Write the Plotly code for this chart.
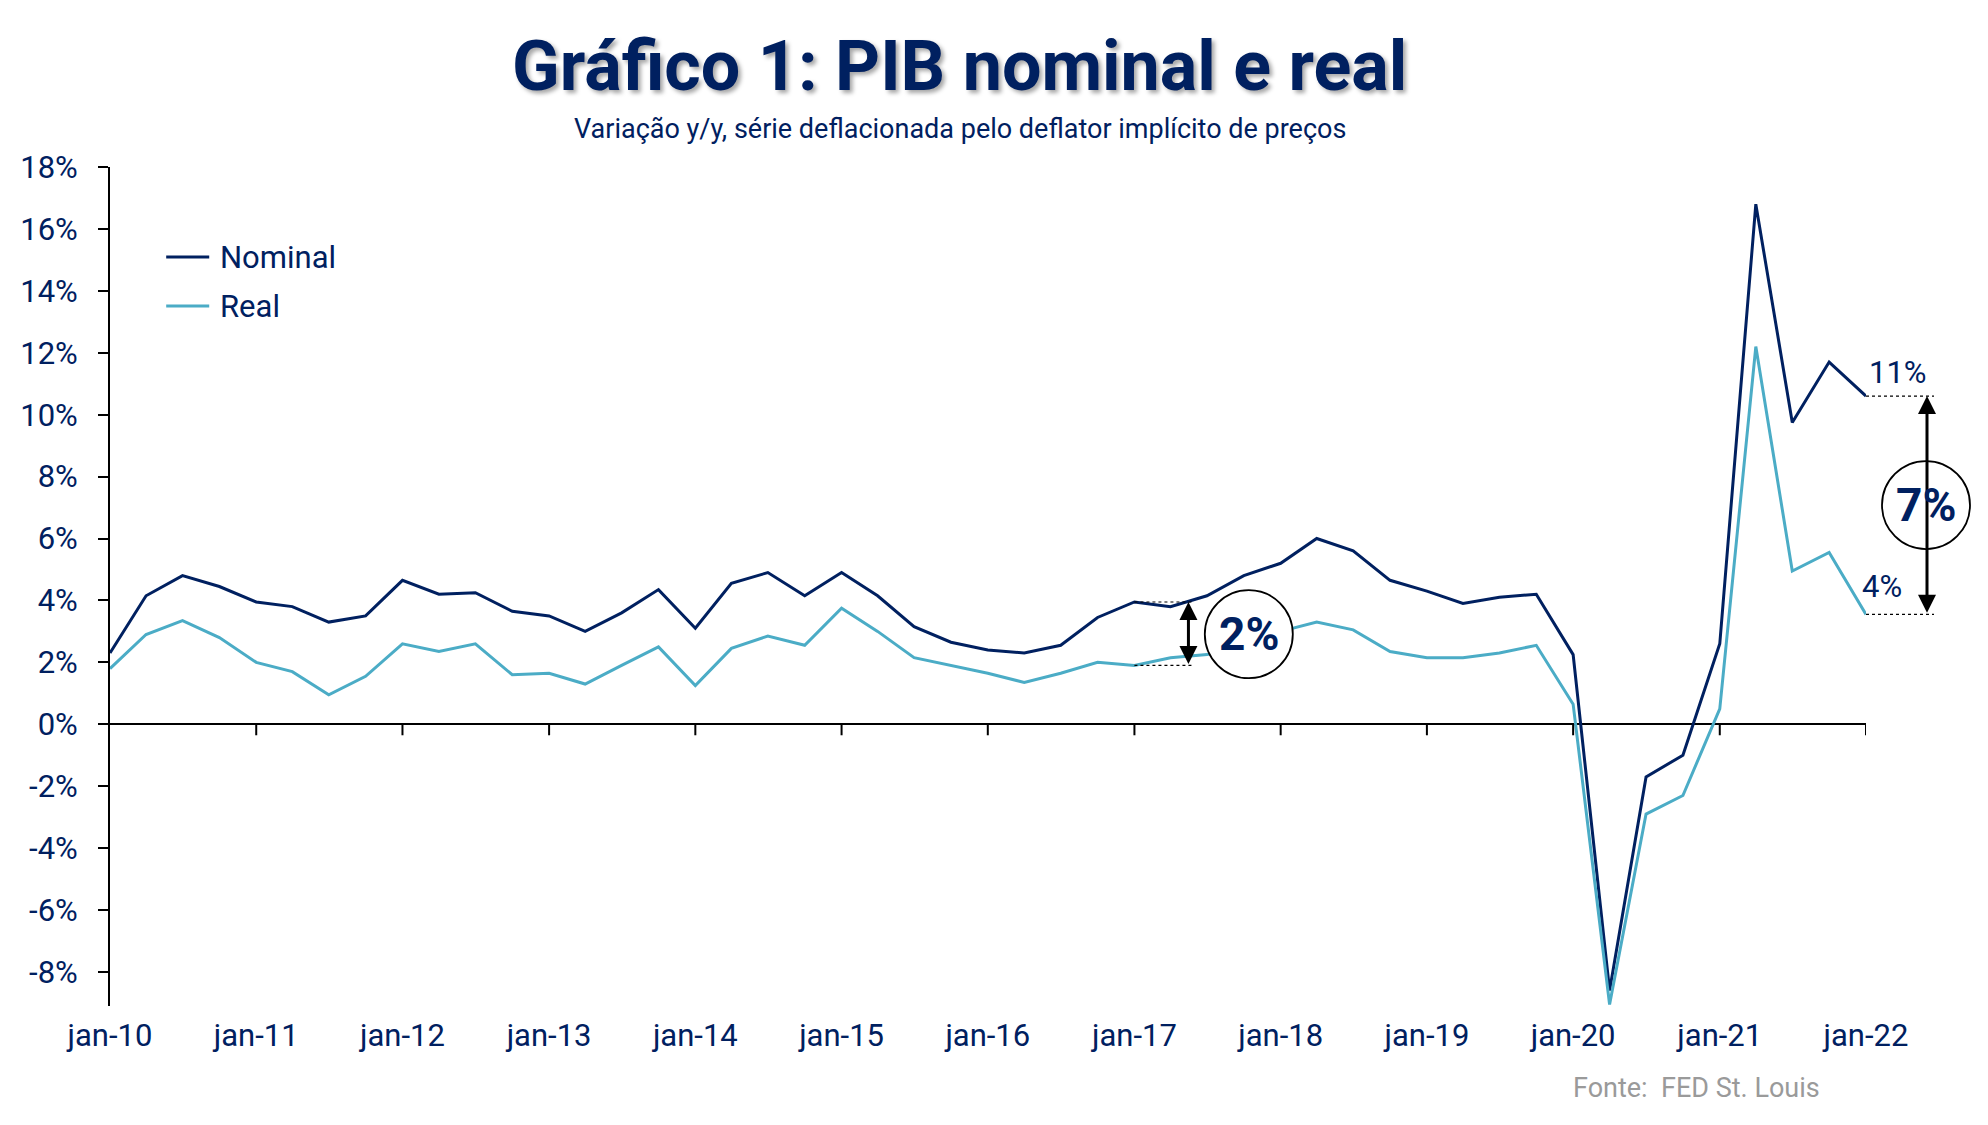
import plotly.graph_objects as go

# ---------------- data ----------------
quarters = [f"{y}-{m:02d}-01" for y in range(2010, 2023) for m in (1, 4, 7, 10)][:49]

nominal = [2.3, 4.15, 4.8, 4.45,
           3.95, 3.8, 3.3, 3.5,
           4.65, 4.2, 4.25, 3.65,
           3.5, 3.0, 3.6, 4.35,
           3.1, 4.55, 4.9, 4.15,
           4.9, 4.15, 3.15, 2.65,
           2.4, 2.3, 2.55, 3.45,
           3.95, 3.8, 4.15, 4.8,
           5.2, 6.0, 5.6, 4.65,
           4.3, 3.9, 4.1, 4.2,
           2.25, -8.6, -1.7, -1.0,
           2.6, 16.8, 9.75, 11.7,
           10.6]

real = [1.8, 2.9, 3.35, 2.8,
        2.0, 1.7, 0.95, 1.55,
        2.6, 2.35, 2.6, 1.6,
        1.65, 1.3, 1.9, 2.5,
        1.25, 2.45, 2.85, 2.55,
        3.75, 3.0, 2.15, 1.9,
        1.65, 1.35, 1.65, 2.0,
        1.9, 2.15, 2.25, 2.5,
        3.0, 3.3, 3.05, 2.35,
        2.15, 2.15, 2.3, 2.55,
        0.65, -9.05, -2.9, -2.3,
        0.5, 12.2, 4.95, 5.55,
        3.55]

series_names = ["Nominal", "Real"]

x_tickvals = ["2010-01-01", "2011-01-01", "2012-01-01", "2013-01-01", "2014-01-01",
              "2015-01-01", "2016-01-01", "2017-01-01", "2018-01-01", "2019-01-01",
              "2020-01-01", "2021-01-01", "2022-01-01"]
x_ticktext = ["jan-10", "jan-11", "jan-12", "jan-13", "jan-14", "jan-15", "jan-16",
              "jan-17", "jan-18", "jan-19", "jan-20", "jan-21", "jan-22"]
y_tickvals = [-8, -6, -4, -2, 0, 2, 4, 6, 8, 10, 12, 14, 16, 18]
y_ticktext = ["-8%", "-6%", "-4%", "-2%", "0%", "2%", "4%", "6%", "8%",
              "10%", "12%", "14%", "16%", "18%"]

gap_small_idx = 28   # jan-17
gap_big_idx = 48     # jan-22
gap_small_label = "2%"
gap_big_label = "7%"
nominal_end_label = "11%"
real_end_label = "4%"

title_text = "Gráfico 1: PIB nominal e real"
subtitle_text = "Variação y/y, série deflacionada pelo deflator implícito de preços"
source_text = "Fonte:  FED St. Louis"

# ---------------- style ----------------
NAVY = "#002060"
LIGHT = "#4BACC6"
FONT = "Roboto, Liberation Sans, sans-serif"
colors = [NAVY, LIGHT]

fig = go.Figure()
for name, vals, col in zip(series_names, [nominal, real], colors):
    fig.add_trace(go.Scatter(x=quarters, y=vals, name=name, mode="lines",
                             line=dict(color=col, width=3), showlegend=False))

shapes = []
annotations = []

# custom legend (line swatch + label)
legend_y = [0.8927, 0.8343]
for name, col, ly in zip(series_names, colors, legend_y):
    shapes.append(dict(type="line", xref="paper", yref="paper",
                       x0=0.032, x1=0.0565, y0=ly, y1=ly,
                       line=dict(color=col, width=3)))
    annotations.append(dict(text=name, xref="paper", yref="paper", x=0.0615, y=ly,
                            xanchor="left", yanchor="middle", showarrow=False,
                            font=dict(family=FONT, size=31, color=NAVY)))

# x ticks on the zero line
for tv in x_tickvals[1:]:
    shapes.append(dict(type="line", xref="x", yref="y", ysizemode="pixel",
                       yanchor=0, x0=tv, x1=tv, y0=0, y1=-11,
                       line=dict(color="black", width=2), layer="above"))

# small gap dashed guides
sx = quarters[gap_small_idx]
for val in (nominal[gap_small_idx], real[gap_small_idx]):
    shapes.append(dict(type="line", xref="x", yref="y", xsizemode="pixel", xanchor=sx,
                       x0=0, x1=58, y0=val, y1=val,
                       line=dict(color="black", width=1.2, dash="dot"), layer="above"))
# big gap dashed guides
for val in (nominal[gap_big_idx], real[gap_big_idx]):
    shapes.append(dict(type="line", xref="paper", yref="y", xsizemode="pixel", xanchor=1,
                       x0=0, x1=68, y0=val, y1=val,
                       line=dict(color="black", width=1.2, dash="dot"), layer="above"))

small_center_y = 2.91
big_center_y = 7.08
shapes.append(dict(type="circle", xref="x", yref="y", xsizemode="pixel", ysizemode="pixel",
                   xanchor=quarters[gap_small_idx + 3], yanchor=small_center_y,
                   x0=-39, x1=49, y0=-44, y1=44,
                   fillcolor="white", line=dict(color="black", width=1.8), layer="above"))
shapes.append(dict(type="circle", xref="paper", yref="y", xsizemode="pixel", ysizemode="pixel",
                   xanchor=1, yanchor=big_center_y,
                   x0=16, x1=104, y0=-44, y1=44,
                   fillcolor="white", line=dict(color="black", width=1.8), layer="above"))

annotations += [
    # title & subtitle
    dict(text=title_text, xref="paper", yref="paper", x=0.484, y=1.1204,
         xanchor="center", yanchor="middle", showarrow=False,
         font=dict(family=FONT, size=70, color=NAVY, weight="bold",
                   shadow="3px 3px 4px rgba(0,0,0,0.35)")),
    dict(text=subtitle_text, xref="paper", yref="paper", x=0.484, y=1.045,
         xanchor="center", yanchor="middle", showarrow=False,
         font=dict(family=FONT, size=27, color=NAVY)),
    # source
    dict(text=source_text, xref="paper", yref="paper", x=0.975, y=-0.0977,
         xanchor="right", yanchor="middle", showarrow=False,
         font=dict(family=FONT, size=27, color="#9a9a9a")),
    # small gap arrow
    dict(x=sx, y=nominal[gap_small_idx], ax=sx, ay=real[gap_small_idx],
         xref="x", yref="y", axref="x", ayref="y", xshift=54, text="",
         showarrow=True, arrowhead=2, startarrowhead=2, arrowside="end+start",
         arrowsize=1.2, startarrowsize=1.2, arrowwidth=3, arrowcolor="black",
         standoff=0, startstandoff=0),
    dict(text=gap_small_label, x=quarters[gap_small_idx + 3], y=small_center_y,
         xref="x", yref="y", xshift=5, xanchor="center", yanchor="middle", showarrow=False,
         font=dict(family=FONT, size=46, color=NAVY, weight="bold")),
    # big gap arrow
    dict(x=1, y=nominal[gap_big_idx], ax=0, ay=real[gap_big_idx],
         xref="paper", yref="y", axref="pixel", ayref="y", xshift=61, text="",
         showarrow=True, arrowhead=2, startarrowhead=2, arrowside="end+start",
         arrowsize=1.2, startarrowsize=1.2, arrowwidth=3, arrowcolor="black",
         standoff=0, startstandoff=0),
    dict(text=gap_big_label, x=1, y=big_center_y, xref="paper", yref="y", xshift=60,
         xanchor="center", yanchor="middle", showarrow=False,
         font=dict(family=FONT, size=46, color=NAVY, weight="bold")),
    dict(text=nominal_end_label, x=1, y=nominal[gap_big_idx], xref="paper", yref="y",
         xshift=32, yshift=24, xanchor="center", yanchor="middle", showarrow=False,
         font=dict(family=FONT, size=31, color=NAVY)),
    dict(text=real_end_label, x=1, y=real[gap_big_idx], xref="paper", yref="y",
         xshift=16, yshift=28, xanchor="center", yanchor="middle", showarrow=False,
         font=dict(family=FONT, size=31, color=NAVY)),
]

fig.update_layout(
    width=1980, height=1117,
    margin=dict(l=100, r=122, t=159, b=119),
    paper_bgcolor="white", plot_bgcolor="white",
    font=dict(family=FONT, color=NAVY, size=31),
    showlegend=False,
    xaxis=dict(type="date", range=["2010-01-01", "2022-01-01"],
               tickvals=x_tickvals, ticktext=x_ticktext,
               showline=False, showgrid=False, zeroline=False,
               ticks="outside", ticklen=2, tickcolor="rgba(0,0,0,0)",
               tickfont=dict(size=31, color=NAVY, family=FONT)),
    yaxis=dict(range=[-9.1, 18], tickvals=y_tickvals, ticktext=y_ticktext,
               showline=True, linecolor="black", linewidth=2,
               ticks="outside", ticklen=10, tickwidth=2, tickcolor="black",
               showgrid=False, zeroline=True, zerolinecolor="black", zerolinewidth=2,
               ticklabelstandoff=14,
               tickfont=dict(size=31, color=NAVY, family=FONT)),
    shapes=shapes,
    annotations=annotations,
)

fig.write_html("out.html")
